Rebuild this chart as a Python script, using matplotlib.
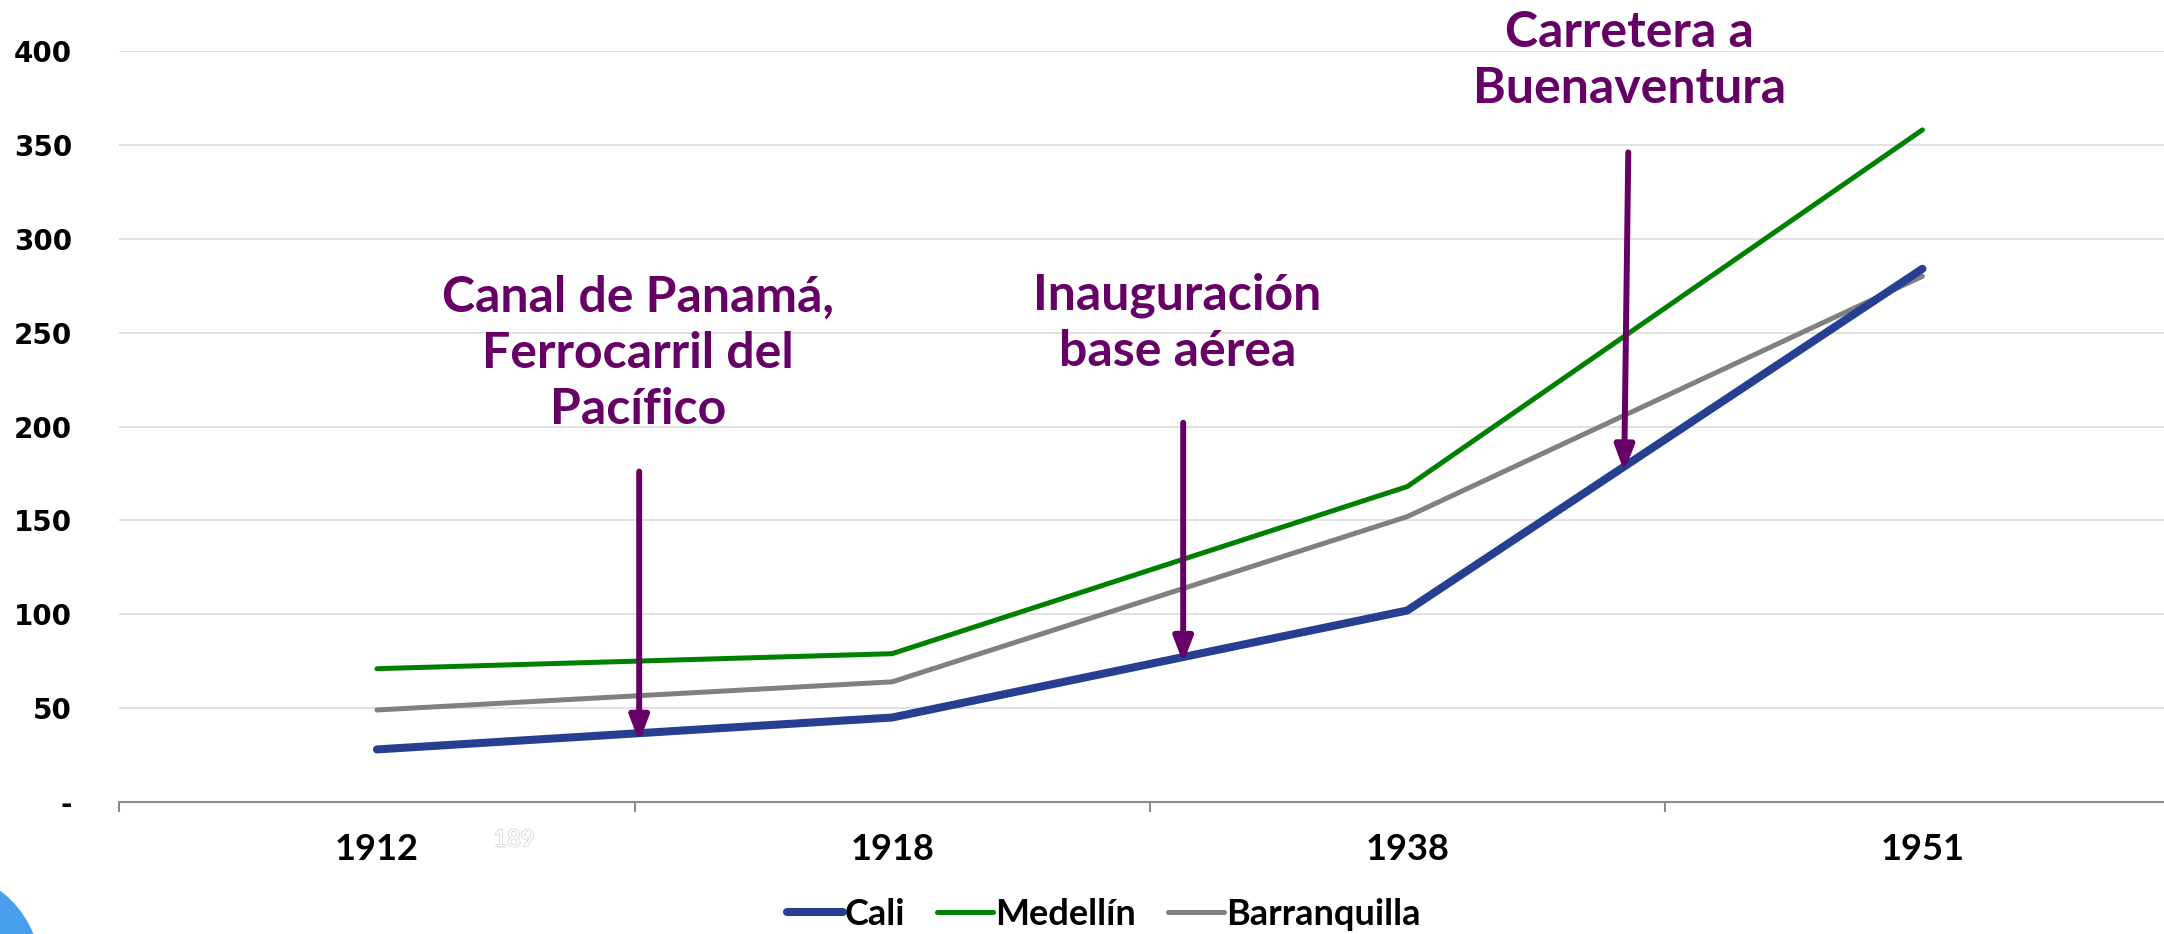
import numpy as np
import matplotlib
matplotlib.use("Agg")
import matplotlib.pyplot as plt
from matplotlib.patches import Ellipse
import matplotlib.patheffects as pe

# data
years = ["1912", "1918", "1938", "1951"]
cali = [28, 45, 102, 284]
medellin = [71, 79, 168, 358]
barranquilla = [49, 64, 152, 280]

y_ticks = [0, 50, 100, 150, 200, 250, 300, 350, 400]
y_labels = ["-", "50", "100", "150", "200", "250", "300", "350", "400"]

# events: text, text position, arrow top, arrow tip
events = [
    ("Canal de Panamá,\nFerrocarril del\nPacífico", (0.506, 239), (0.509, 176), (0.509, 32)),
    ("Inauguración\nbase aérea", (1.554, 255), (1.565, 202), (1.565, 74)),
    ("Carretera a\nBuenaventura", (2.431, 395), (2.429, 346), (2.421, 176)),
]

purple = "#660066"
narrow = ["Liberation Sans Narrow", "Lato", "DejaVu Sans"]

W, H = 2164, 934
fig = plt.figure(figsize=(W / 100, H / 100), dpi=100)
ax = fig.add_axes([119.4 / W, 132 / H, 2060.6 / W, 751 / H])

x = np.arange(len(years))
l_med, = ax.plot(x, medellin, color="#008000", lw=3.6, solid_capstyle="round", label="Medellín", zorder=3)
l_bar, = ax.plot(x, barranquilla, color="#808080", lw=3.6, solid_capstyle="round", label="Barranquilla", zorder=3)
l_cali, = ax.plot(x, cali, color="#263f91", lw=5.8, solid_capstyle="round", label="Cali", zorder=4)

ax.set_xlim(-0.5, 3.5)
ax.set_ylim(0, 400)

for s in ["top", "right", "left"]:
    ax.spines[s].set_visible(False)
ax.spines["bottom"].set_color("#8c8c8c")
ax.spines["bottom"].set_linewidth(1.5)

ax.set_yticks(y_ticks)
ax.set_yticklabels(y_labels, fontsize=20, fontweight="bold", family="DejaVu Sans")
ax.tick_params(axis="y", length=0, pad=34)
for yv in y_ticks[1:]:
    ax.axhline(yv, color="#d9d9d9", lw=1.1, zorder=1)

ax.set_xticks(x)
ax.set_xticklabels(years, fontsize=26, fontweight="bold", family=narrow)
ax.set_xticks(np.arange(-0.5, 4, 1), minor=True)
ax.tick_params(axis="x", which="major", length=0, pad=22)
ax.tick_params(axis="x", which="minor", length=7, width=1.5, color="#8c8c8c")

for txt, tpos, top, tip in events:
    ax.annotate("", xy=tip, xytext=top, annotation_clip=False, zorder=6,
                arrowprops=dict(arrowstyle="-|>,head_length=0.5,head_width=0.19",
                                mutation_scale=30, lw=4.3, color=purple,
                                shrinkA=0, shrinkB=0))
    ax.text(tpos[0], tpos[1], txt, ha="center", va="center", color=purple,
            fontsize=36, fontweight="bold", family=["Lato", "DejaVu Sans"],
            linespacing=1.3, clip_on=False, zorder=6)

# faint leftover label
fig.text(514 / W, 1 - 840 / H, "189", ha="center", va="center", fontsize=17,
         family=narrow, color="white",
         path_effects=[pe.withStroke(linewidth=1.2, foreground="#d6d6d6")])

# blue circle peeking in the corner
r = 100
fig.patches.append(Ellipse((-60 / W, -37.5 / H), 2 * r / W, 2 * r / H,
                           transform=fig.transFigure, color="#4a9fec", zorder=0))

fig.legend(handles=[l_cali, l_med, l_bar], loc="center", bbox_to_anchor=(0.51, 0.021),
           ncol=3, frameon=False, handlelength=1.55, handletextpad=0.05,
           columnspacing=0.9, prop=dict(family=narrow, weight="bold", size=26))

fig.savefig("out.png", dpi=100)
